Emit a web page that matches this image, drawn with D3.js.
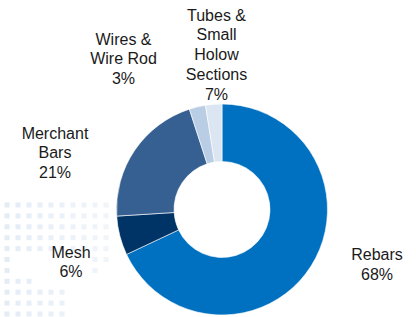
<!DOCTYPE html>
<html>
<head>
<meta charset="utf-8">
<script src="https://cdn.jsdelivr.net/npm/d3@7"></script>
<style>
  html, body { margin: 0; padding: 0; background: #fff; }
  svg { display: block; }
  text { font-family: "Liberation Sans", Arial, sans-serif; font-size: 16px; fill: #1a1a1a; }
</style>
</head>
<body>
<svg id="chart"></svg>
<script>
// Product mix (share of volume), clockwise from 12 o'clock
const categories = ['Rebars', 'Mesh', 'Merchant Bars', 'Wires & Wire Rod', 'Tubes & Small Holow Sections'];
const values = [68, 6, 21, 2.5, 2.5];           // slice sizes as drawn
const pctLabels = ['68%', '6%', '21%', '3%', '7%']; // percentages as printed
const labelLines = [
  ['Rebars'],
  ['Mesh'],
  ['Merchant', 'Bars'],
  ['Wires &', 'Wire Rod'],
  ['Tubes &', 'Small', 'Holow', 'Sections']
];
const colors = ['#0070c0', '#003366', '#376092', '#b9cde5', '#dce6f2'];

const width = 416;
const height = 317;
const cx = 222, cy = 209.5;
const outerR = 105.5, innerR = 48;

const svg = d3.select('#chart')
  .attr('width', width)
  .attr('height', height);

// faint dotted watermark in the lower left corner
const dotRows = [
  '##########',
  '##########',
  '##########',
  '##########',
  '##########',
  '#.......##',
  '#.......#.',
  '###.......',
  '######....',
  '######....',
  '######....'
];
const wm = svg.append('g');
dotRows.forEach((row, r) => {
  row.split('').forEach((c, k) => {
    if (c !== '#') return;
    wm.append('rect')
      .attr('x', 4.5 + k * 11)
      .attr('y', 202.5 + r * 10.9)
      .attr('width', 5)
      .attr('height', 5)
      .attr('fill', '#e4ecf6')
      .attr('opacity', 1 - k * 0.05);
  });
});

// donut
const pie = d3.pie().sort(null).value(d => d);
const arc = d3.arc().innerRadius(innerR).outerRadius(outerR);

const g = svg.append('g').attr('transform', `translate(${cx},${cy})`);
g.selectAll('path')
  .data(pie(values))
  .join('path')
  .attr('d', arc)
  .attr('fill', (d, i) => colors[i])
  .attr('stroke', '#fff')
  .attr('stroke-width', 0.6);

// labels: anchor (center x, first baseline) and line height
const labelPos = [
  [377, 260],
  [71, 257.5],
  [55, 138.5],
  [123.5, 44.5],
  [216.5, 20.5]
];
const lineH = 19.8;

categories.forEach((name, i) => {
  const lines = labelLines[i].concat([pctLabels[i]]);
  const t = svg.append('text')
    .attr('text-anchor', 'middle')
    .attr('x', labelPos[i][0])
    .attr('y', labelPos[i][1]);
  lines.forEach((ln, j) => {
    t.append('tspan')
      .attr('x', labelPos[i][0])
      .attr('dy', j === 0 ? 0 : lineH)
      .text(ln);
  });
});
</script>
</body>
</html>
